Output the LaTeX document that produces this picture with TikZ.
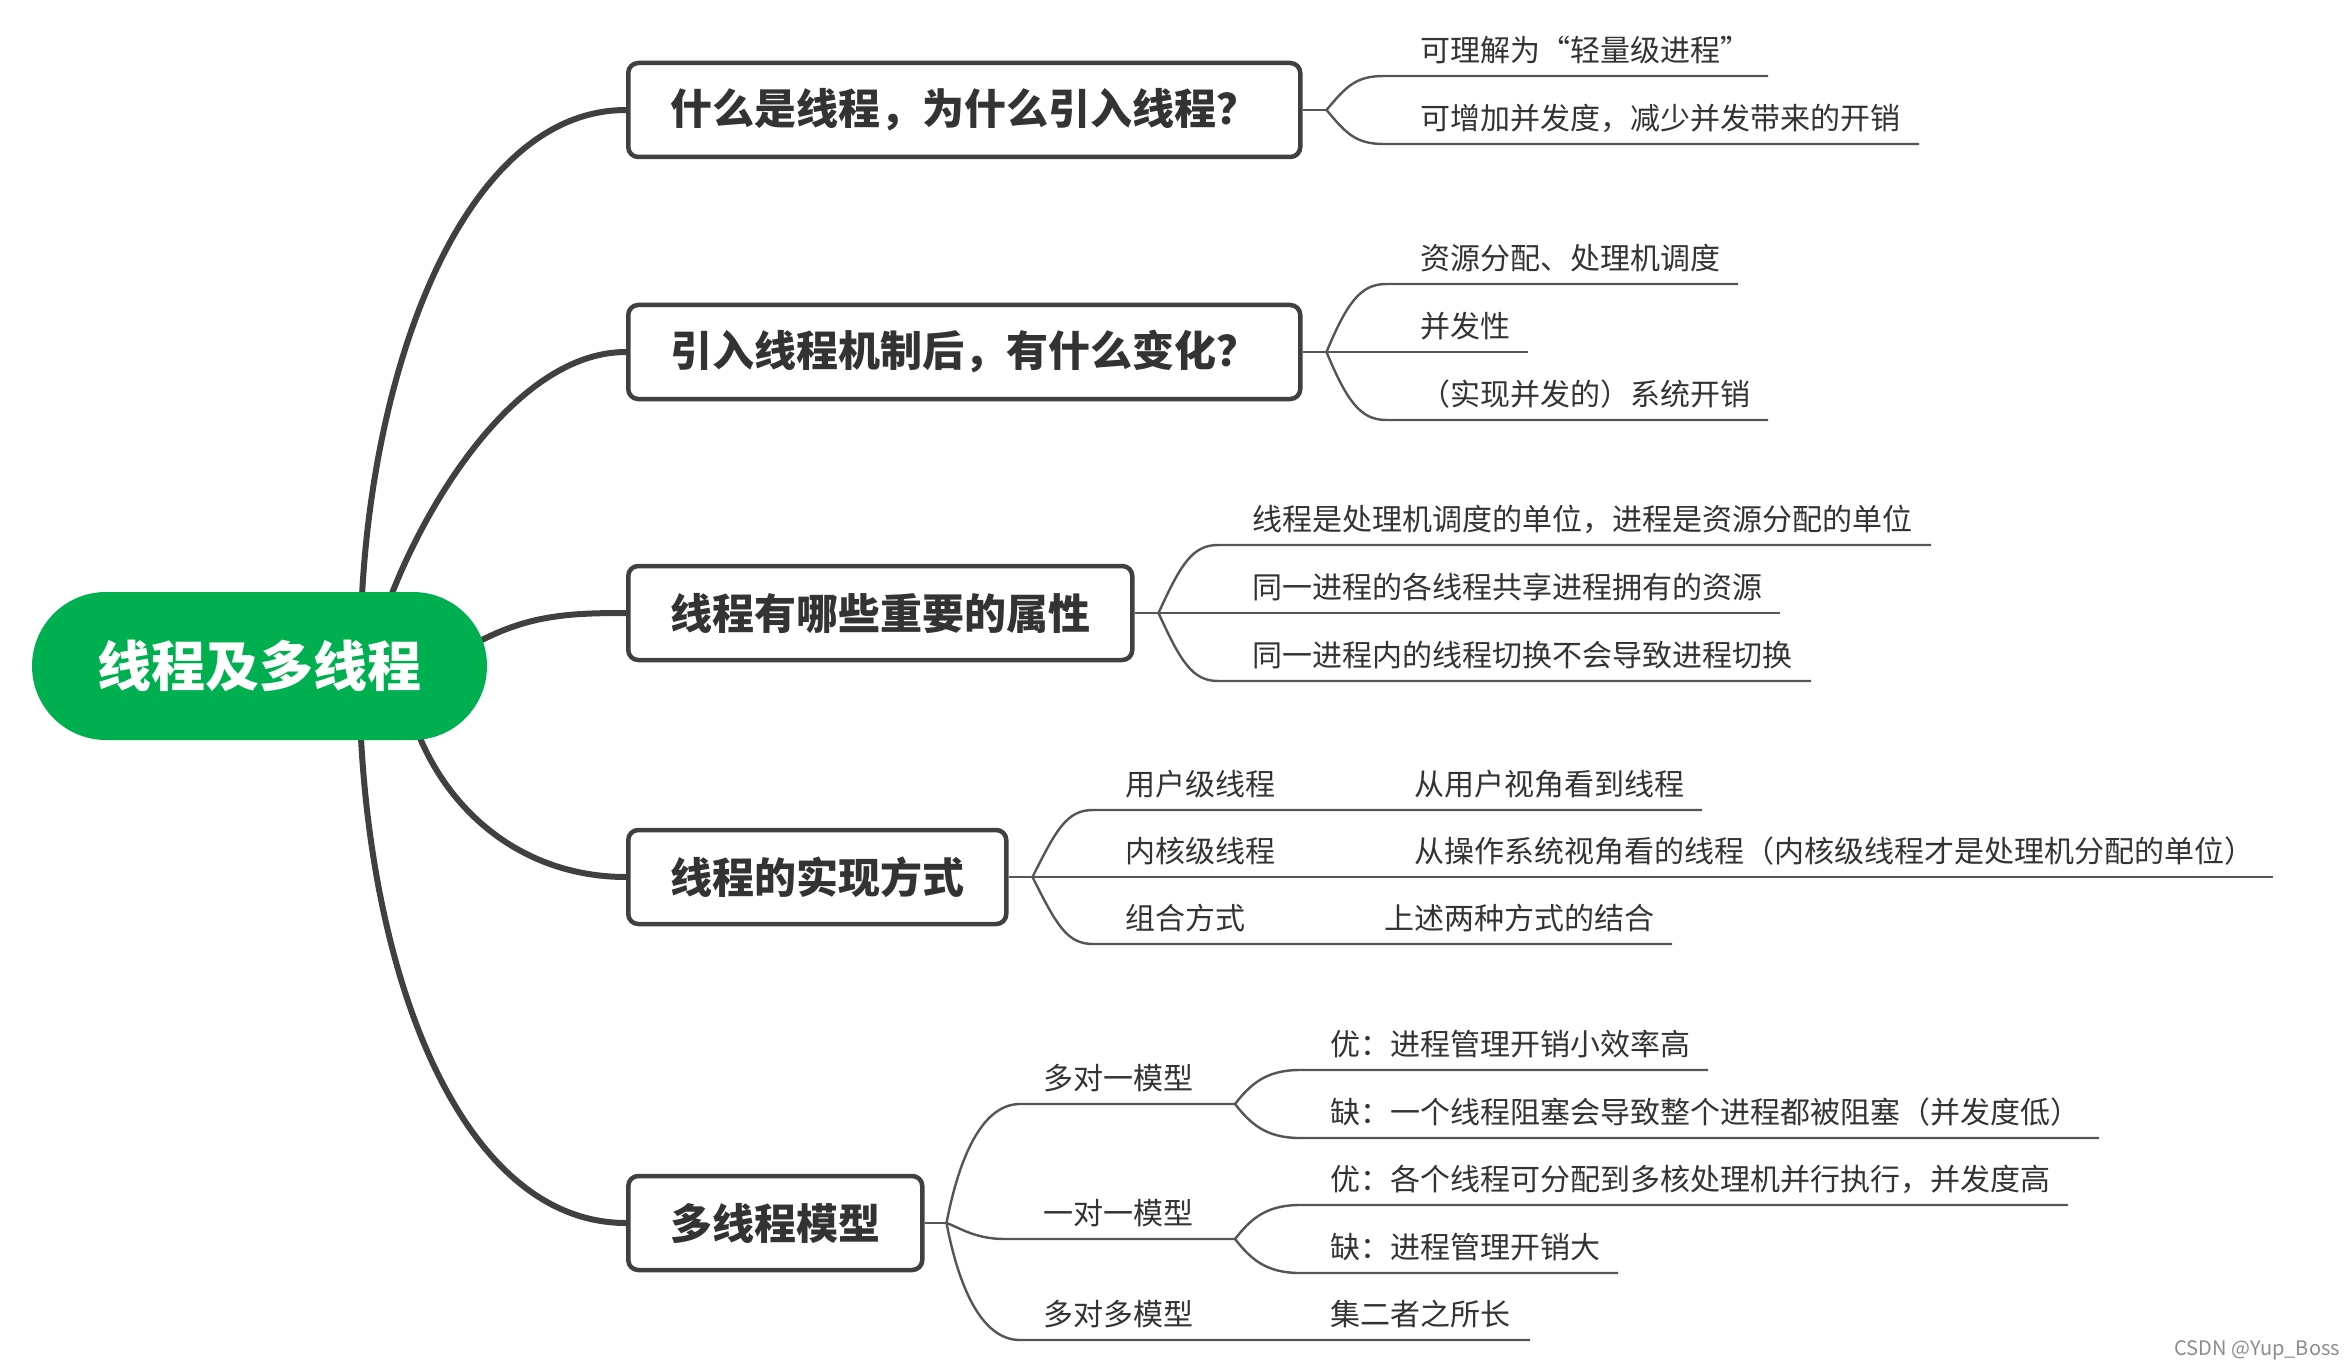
\documentclass[tikz,border=0pt]{standalone}
\usepackage{fontspec}
\setmainfont{Noto Sans CJK SC}
\usetikzlibrary{shapes.misc,backgrounds}
\definecolor{rootgreen}{RGB}{0,176,80}
\definecolor{boxline}{RGB}{64,64,64}
\definecolor{txt}{RGB}{51,51,51}
\definecolor{twigcol}{RGB}{85,85,85}
\begin{document}
\begin{tikzpicture}[x=1pt,y=-1pt,
  trunk/.style={draw=boxline, line width=6pt},
  twig/.style={draw=twigcol, line width=2.4pt},
  topic/.style={draw=boxline, line width=4.5pt, rounded corners=10pt, fill=white,
    minimum height=94pt, inner xsep=42pt, inner ysep=0pt, anchor=west,
    font=\fontsize{42}{50}\selectfont\bfseries, text=txt},
  leaftext/.style={anchor=west, inner sep=0pt, font=\fontsize{30}{36}\selectfont, text=txt},
  rootnode/.style={rounded rectangle, fill=rootgreen, minimum width=455pt, minimum height=148pt,
    inner sep=0pt, text=white, font=\fontsize{54}{64}\selectfont\bfseries}
]
\useasboundingbox (0,0) rectangle (2351,1372);

% central topic
\node[rootnode] (root) at (259.5,666) {线程及多线程};

% main topics
\node[topic] (b1) at (626,110) {什么是线程，为什么引入线程？};
\node[topic] (b2) at (626,352) {引入线程机制后，有什么变化？};
\node[topic] (b3) at (626,613) {线程有哪些重要的属性};
\node[topic] (b4) at (626,877) {线程的实现方式};
\node[topic] (b5) at (626,1223) {多线程模型};

% root connector starts
\coordinate (r1) at (362,596);
\coordinate (r2) at (391,596);
\coordinate (r3) at (480,641);
\coordinate (r4) at (420,738);
\coordinate (r5) at (361,738);

% forks
\coordinate (f1) at ([xshift=24pt]b1.east);
\coordinate (f2) at ([xshift=24pt]b2.east);
\coordinate (f3) at ([xshift=24pt]b3.east);
\coordinate (f4) at ([xshift=24pt]b4.east);
\coordinate (f5) at ([xshift=22pt]b5.east);

% ---- leaves of b1
\node[leaftext] (t11) at (1420,50) {可理解为“轻量级进程”};
\node[leaftext] (t12) at (1420,118) {可增加并发度，减少并发带来的开销};
\coordinate (a11) at (1384,76);  \coordinate (e11) at (1768,76);
\coordinate (a12) at (1384,144); \coordinate (e12) at (1919,144);

% ---- leaves of b2
\node[leaftext] (t21) at (1420,258) {资源分配、处理机调度};
\node[leaftext] (t22) at (1420,326) {并发性};
\node[leaftext] (t23) at (1420,394) {（实现并发的）系统开销};
\coordinate (a21) at (1386,284); \coordinate (e21) at (1738,284);
\coordinate (e22) at (1528,352);
\coordinate (a23) at (1386,420); \coordinate (e23) at (1768,420);

% ---- leaves of b3
\node[leaftext] (t31) at (1252,519) {线程是处理机调度的单位，进程是资源分配的单位};
\node[leaftext] (t32) at (1252,587) {同一进程的各线程共享进程拥有的资源};
\node[leaftext] (t33) at (1252,655) {同一进程内的线程切换不会导致进程切换};
\coordinate (a31) at (1218,545); \coordinate (e31) at (1931,545);
\coordinate (e32) at (1780,613);
\coordinate (a33) at (1218,681); \coordinate (e33) at (1811,681);

% ---- leaves of b4
\node[leaftext] (t41a) at (1125,784) {用户级线程};
\node[leaftext] (t41b) at (1414,784) {从用户视角看到线程};
\node[leaftext] (t42a) at (1125,851) {内核级线程};
\node[leaftext] (t42b) at (1414,851) {从操作系统视角看的线程（内核级线程才是处理机分配的单位）};
\node[leaftext] (t43a) at (1125,918) {组合方式};
\node[leaftext] (t43b) at (1384,918) {上述两种方式的结合};
\coordinate (a41) at (1093,810); \coordinate (e41) at (1702,810);
\coordinate (e42) at (2273,877);
\coordinate (a43) at (1093,944); \coordinate (e43) at (1672,944);

% ---- leaves of b5
\node[leaftext] (t51) at (1043,1078) {多对一模型};
\node[leaftext] (t52) at (1043,1213) {一对一模型};
\node[leaftext] (t53a) at (1043,1314) {多对多模型};
\node[leaftext] (t53b) at (1330,1314) {集二者之所长};
\node[leaftext] (t511) at (1330,1044) {优：进程管理开销小效率高};
\node[leaftext] (t512) at (1330,1112) {缺：一个线程阻塞会导致整个进程都被阻塞（并发度低）};
\node[leaftext] (t521) at (1330,1179) {优：各个线程可分配到多核处理机并行执行，并发度高};
\node[leaftext] (t522) at (1330,1247) {缺：进程管理开销大};
\coordinate (a51) at (1020,1104); \coordinate (s1) at (1235,1104);
\coordinate (a52) at (1005,1239); \coordinate (s2) at (1235,1239);
\coordinate (a53) at (1020,1340); \coordinate (e53) at (1530,1340);
\coordinate (a511) at (1300,1070); \coordinate (e511) at (1708,1070);
\coordinate (a512) at (1300,1138); \coordinate (e512) at (2099,1138);
\coordinate (a521) at (1300,1205); \coordinate (e521) at (2068,1205);
\coordinate (a522) at (1300,1273); \coordinate (e522) at (1618,1273);

% watermark
\node[anchor=east, inner sep=0pt, text=black!45, font=\fontsize{20}{24}\selectfont] (wm) at (2340,1350) {CSDN @Yup\_Boss};

\begin{scope}[on background layer]
  % trunks
  \draw[trunk] (r1) .. controls (375,350) and (470,110) .. (b1.west);
  \draw[trunk] (r2) .. controls (430,495) and (520,352) .. (b2.west);
  \draw[trunk] (r3) .. controls (530,615) and (570,613) .. (b3.west);
  \draw[trunk] (r4) .. controls (455,820) and (530,877) .. (b4.west);
  \draw[trunk] (r5) .. controls (375,1000) and (470,1223) .. (b5.west);
  % stubs
  \draw[twig] (b1.east) -- (f1);
  \draw[twig] (b2.east) -- (f2);
  \draw[twig] (b3.east) -- (f3);
  \draw[twig] (b4.east) -- (f4);
  \draw[twig] (b5.east) -- (f5);
  % b1
  \draw[twig] (f1) .. controls +(20,-24) and +(-28,0) .. (a11) -- (e11);
  \draw[twig] (f1) .. controls +(20,24) and +(-28,0) .. (a12) -- (e12);
  % b2
  \draw[twig] (f2) .. controls +(20,-48) and +(-26,0) .. (a21) -- (e21);
  \draw[twig] (f2) -- (e22);
  \draw[twig] (f2) .. controls +(20,48) and +(-26,0) .. (a23) -- (e23);
  % b3
  \draw[twig] (f3) .. controls +(22,-48) and +(-26,0) .. (a31) -- (e31);
  \draw[twig] (f3) -- (e32);
  \draw[twig] (f3) .. controls +(22,48) and +(-26,0) .. (a33) -- (e33);
  % b4
  \draw[twig] (f4) .. controls +(24,-48) and +(-26,0) .. (a41) -- (e41);
  \draw[twig] (f4) -- (e42);
  \draw[twig] (f4) .. controls +(24,48) and +(-26,0) .. (a43) -- (e43);
  % b5
  \draw[twig] (f5) .. controls +(14,-73) and +(-35,0) .. (a51) -- (s1);
  \draw[twig] (f5) .. controls +(14,5) and +(-30,0) .. (a52) -- (s2);
  \draw[twig] (f5) .. controls +(14,73) and +(-35,0) .. (a53) -- (e53);
  \draw[twig] (s1) .. controls +(15,-19) and +(-35,0) .. (a511) -- (e511);
  \draw[twig] (s1) .. controls +(15,19) and +(-35,0) .. (a512) -- (e512);
  \draw[twig] (s2) .. controls +(15,-19) and +(-35,0) .. (a521) -- (e521);
  \draw[twig] (s2) .. controls +(15,19) and +(-35,0) .. (a522) -- (e522);
\end{scope}
\end{tikzpicture}
\end{document}
